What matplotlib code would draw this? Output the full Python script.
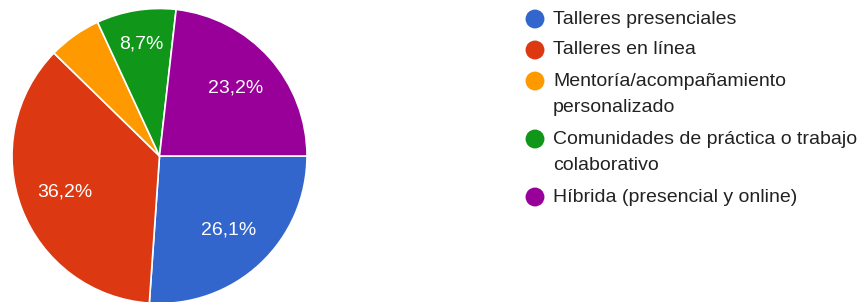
import matplotlib
matplotlib.use("Agg")
import matplotlib.pyplot as plt
import numpy as np

plt.rcParams['font.family'] = ['Liberation Sans', 'DejaVu Sans']

categories = ["Talleres presenciales", "Talleres en línea",
              "Mentoría/acompañamiento\npersonalizado",
              "Comunidades de práctica o trabajo\ncolaborativo",
              "Híbrida (presencial y online)"]
values = [26.1, 36.2, 5.8, 8.7, 23.2]
colors = ["#3366CC", "#DC3912", "#FF9900", "#109618", "#990099"]

W, H = 866, 302
fig = plt.figure(figsize=(W / 100, H / 100), dpi=100)

# pie axes (pixel-based placement)
cx, cy, r = 159.5, 156, 147.5
ax = fig.add_axes([(cx - r) / W, (H - cy - r) / H, 2 * r / W, 2 * r / H])

def fmt(p):
    return (f"{p:.1f}".replace('.', ',') + '%') if p > 6 else ''

wedges, texts, autotexts = ax.pie(values, colors=colors, startangle=0, counterclock=False,
                                  radius=1, autopct=fmt, pctdistance=0.69,
                                  wedgeprops=dict(edgecolor='white', linewidth=1.2),
                                  textprops=dict(color='white', fontsize=14))
ax.set_xlim(-1, 1)
ax.set_ylim(-1, 1)
ax.set_aspect('equal')
ax.axis('off')
# push the label of the narrow green slice further out
w = wedges[3]
ang = np.deg2rad((w.theta1 + w.theta2) / 2)
autotexts[3].set_position((0.77 * np.cos(ang), 0.77 * np.sin(ang)))

# legend drawn on an overlay axes in pixel coordinates
lax = fig.add_axes([0, 0, 1, 1])
lax.set_xlim(0, W)
lax.set_ylim(H, 0)
lax.axis('off')
y = 19
for lab, col in zip(categories, colors):
    lax.scatter([535], [y], s=185, color=col, edgecolor='none')
    lines = lab.split('\n')
    for i, ln in enumerate(lines):
        lax.text(553, y + 27 * i, ln, fontsize=14, color='#222222', va='center', ha='left')
    y += 31 + 27 * (len(lines) - 1)

fig.savefig("out.png", dpi=100)
